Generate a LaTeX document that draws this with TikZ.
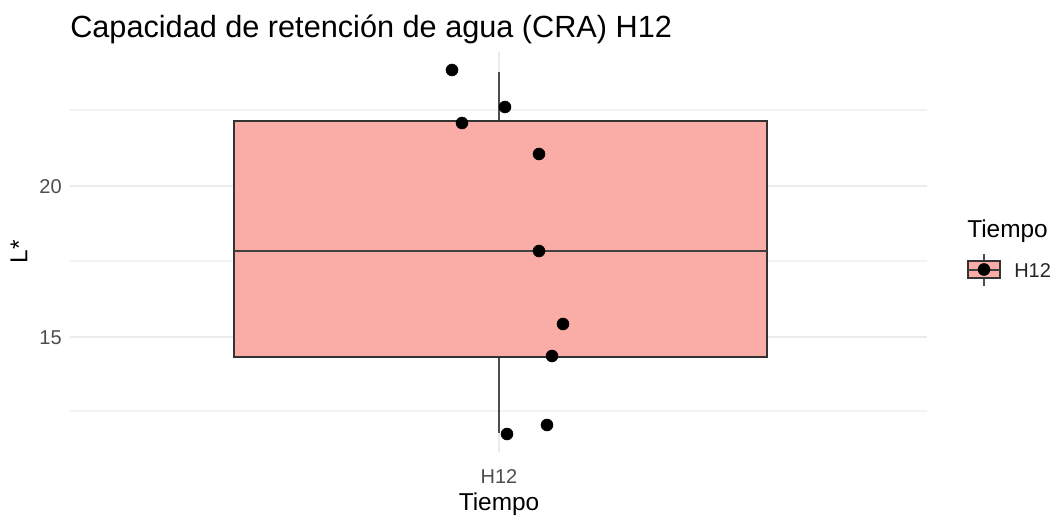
\documentclass[tikz,border=0pt]{standalone}
\usepackage{fontspec}
\setmainfont{Liberation Sans}
\definecolor{boxfill}{RGB}{250,173,167}
\definecolor{gridmaj}{RGB}{235,235,235}
\definecolor{gridmin}{RGB}{243,243,243}
\definecolor{ticktext}{RGB}{77,77,77}
\tikzset{
  ticklab/.style={text=ticktext, font=\fontsize{15}{15}\selectfont, inner sep=0pt},
  axtitle/.style={font=\fontsize{18.3}{18.3}\selectfont, inner sep=0pt},
  dot/.style={black, fill=black}
}

\begin{document}
\begin{tikzpicture}[x=0.75pt, y=-0.75pt]
	\useasboundingbox (0,0) rectangle (1058,517);
	
	% Draw grid lines.
	\foreach \y in {110,261,411} {
		\draw[gridmin, line width=0.8] (70,\y) -- (927,\y);
	}
	\foreach \y in {186,337} {
		\draw[gridmaj, line width=1.2] (70,\y) -- (927,\y);
	}
	\draw[gridmaj, line width=1.2] (499,52) -- (499,452);
	
	% Draw whisker and box.
	\draw[black!70, line width=1.3] (499,72) -- (499,433);
	\draw[black!80, line width=1, fill=boxfill] (234,121) rectangle (767,357);
	\draw[black!75, line width=2] (234,251) -- (767,251);
	
	% Draw data points.
	\foreach \x/\y in {452/70, 505/107, 462/123, 539/154, 539/251, 563/324, 552/356, 507/434, 547/425} {
		\draw[dot] (\x,\y) circle (4.5pt);
	}
	
	% Labels.
	\node[anchor=base west, font=\fontsize{23}{23}\selectfont, inner sep=0pt] (title) at (70,38) {Capacidad de retención de agua (CRA) H12};
	\node[ticklab, anchor=east] (t20) at (62,187) {20};
	\node[ticklab, anchor=east] (t15) at (62,338) {15};
	\node[ticklab, anchor=base] (th12) at (499,483) {H12};
	\node[axtitle, anchor=base] (xtitle) at (499,510) {Tiempo};
	\node[axtitle, rotate=90] (ytitle) at (19,252) {L*};
	
	% Legend.
	\node[axtitle, anchor=base west] (legtitle) at (967,237) {Tiempo};
	\draw[black!70, line width=1.3] (984,254) -- (984,286);
	\draw[black!80, line width=1, fill=boxfill] (968,261) rectangle (1000,278);
	\draw[black!75, line width=1.5] (968,269.5) -- (1000,269.5);
	\draw[dot] (984,269.5) circle (4.5pt);
	\node[ticklab, text=black!85, anchor=base west] (legh12) at (1014,277) {H12};
\end{tikzpicture}
\end{document}
